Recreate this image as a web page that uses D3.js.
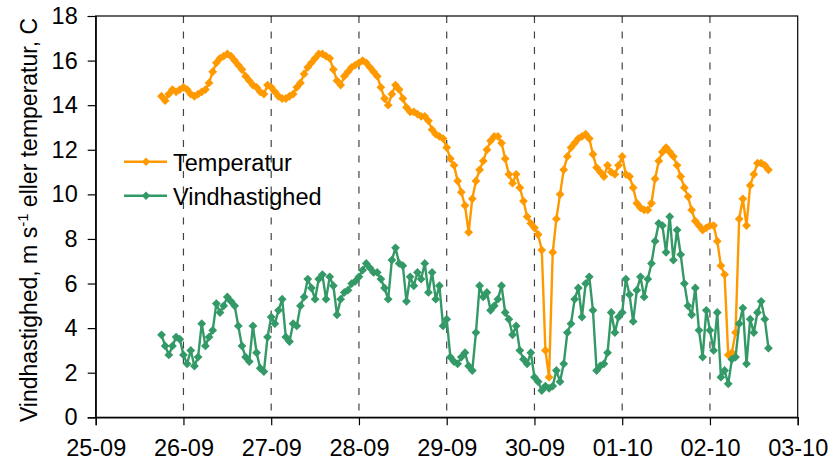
<!DOCTYPE html>
<html>
<head>
<meta charset="utf-8">
<script src="https://cdn.jsdelivr.net/npm/d3@7"></script>
<style>
  html, body { margin: 0; padding: 0; background: #fff; }
  svg { display: block; }
  text { font-family: "Liberation Sans", Arial, Helvetica, sans-serif; fill: #000; }
</style>
</head>
<body>
<svg id="chart" width="839" height="468"></svg>
<script>
// ---- data ----
const xTickLabels = ["25-09","26-09","27-09","28-09","29-09","30-09","01-10","02-10","03-10"];
const yTickValues = [0,2,4,6,8,10,12,14,16,18];
const firstHour = 18; // first observation: 25-09 18:00, hourly
const temperatur = [
 14.4,14.2,14.5,14.7,14.6,14.7,14.8,14.7,14.5,14.4,14.5,14.6,14.7,15.0,15.5,15.9,16.1,16.2,16.3,16.2,
 16.0,15.8,15.6,15.3,15.1,14.9,14.8,14.6,14.5,14.9,14.8,14.6,14.4,14.3,14.3,14.4,14.5,14.8,15.0,15.4,
 15.7,15.9,16.1,16.3,16.3,16.2,16.1,15.6,15.1,14.9,15.3,15.5,15.7,15.8,15.9,16.0,15.9,15.7,15.5,15.3,
 14.8,14.3,14.0,14.5,14.9,14.7,14.3,13.9,13.7,13.7,13.6,13.5,13.5,13.3,12.9,12.7,12.6,12.5,12.1,11.6,
 11.3,10.6,10.1,9.5,8.3,9.8,10.6,11.1,11.5,12.0,12.4,12.6,12.6,12.3,11.6,10.9,10.5,10.9,10.3,9.7,
 9.0,8.7,8.5,8.2,7.5,3.0,1.8,7.4,8.9,10.0,11.1,11.7,12.1,12.3,12.5,12.6,12.7,12.5,11.8,11.2,
 11.0,10.8,11.3,11.0,10.9,11.3,11.7,10.9,10.8,10.3,9.6,9.4,9.3,9.3,9.6,10.7,11.5,11.9,12.1,11.9,
 11.7,11.3,10.8,10.3,9.9,9.3,8.8,8.6,8.4,8.5,8.6,8.6,7.9,6.8,6.4,2.8,2.9,3.8,8.9,9.8,
 8.6,10.4,10.9,11.4,11.4,11.3,11.1
];
const vindhastighed = [
 3.7,3.2,2.8,3.2,3.6,3.5,2.8,2.4,3.0,2.3,2.7,4.2,3.2,3.6,3.9,5.1,4.7,5.0,5.4,5.2,
 5.0,4.1,3.2,2.7,2.5,4.1,2.9,2.2,2.05,3.6,4.5,4.2,4.8,5.3,3.6,3.4,4.2,4.1,5.0,5.4,
 6.2,5.8,5.3,6.2,6.4,5.3,6.3,5.9,4.6,5.3,5.6,5.7,6.0,6.1,6.3,6.6,6.9,6.7,6.5,6.5,
 6.2,5.8,5.3,7.05,7.6,6.9,6.8,5.2,6.3,5.9,6.5,6.2,6.9,5.6,6.5,5.3,5.9,4.1,4.4,2.7,
 2.5,2.4,2.7,2.9,2.3,2.1,3.8,5.9,5.4,5.6,4.8,5.0,5.3,5.9,4.7,4.4,3.7,4.1,3.0,2.6,
 2.4,2.9,1.8,1.6,1.2,1.4,1.3,1.4,2.1,1.6,2.4,3.8,4.2,5.3,5.8,4.5,6.0,6.3,4.8,2.1,
 2.3,2.4,2.9,4.7,3.8,4.5,4.7,6.2,5.5,4.3,5.7,6.3,5.4,6.2,6.9,7.9,8.7,8.6,7.4,9.0,
 7.05,8.4,7.3,6.0,5.0,4.6,5.8,3.9,2.7,4.8,3.9,3.0,4.7,1.8,2.1,1.5,2.6,2.7,4.2,4.9,
 2.4,4.4,3.8,4.7,5.2,4.4,3.1
];
const seriesNames = ["Temperatur", "Vindhastighed"];
const seriesColors = ["#FF9900", "#339966"];

// ---- layout ----
const svg = d3.select("#chart");
const plotL = 95.7, plotR = 797.7, plotT = 16, plotB = 417.3;
const t0 = Date.UTC(2009, 8, 25);
const HOUR = 3600 * 1000, DAY = 24 * HOUR;
const x = d3.scaleTime().domain([new Date(t0), new Date(t0 + 8 * DAY)]).range([plotL, plotR]);
const y = d3.scaleLinear().domain([0, 18]).range([plotB, plotT]);
const tickDates = xTickLabels.map((_, i) => new Date(t0 + i * DAY));
const toPoints = arr => arr.map((v, i) => ({ t: new Date(t0 + (firstHour + i) * HOUR), v }));
const FONT = 23.5;

// gridlines (dashed vertical, interior days)
svg.append("g").selectAll("line").data(tickDates.slice(1, -1)).join("line")
  .attr("x1", d => x(d)).attr("x2", d => x(d))
  .attr("y1", plotT).attr("y2", plotB)
  .attr("stroke", "#444").attr("stroke-width", 1.2).attr("stroke-dasharray", "7,8.5");

// frame
svg.append("rect").attr("x", plotL).attr("y", plotT).attr("width", plotR - plotL).attr("height", plotB - plotT)
  .attr("fill", "none").attr("stroke", "#000").attr("stroke-width", 1.2);

// axes
const xAxis = d3.axisBottom(x).tickValues(tickDates).tickFormat((d, i) => xTickLabels[i]).tickSize(8).tickPadding(14);
const gx = svg.append("g").attr("transform", `translate(0,${plotB})`).call(xAxis);
gx.select(".domain").attr("stroke-width", 1.2);
gx.selectAll(".tick line").attr("stroke-width", 1.2);
gx.selectAll("text").attr("font-size", FONT).attr("font-family", "Liberation Sans, Arial, sans-serif").attr("fill", "#000");

const yAxis = d3.axisLeft(y).tickValues(yTickValues).tickFormat(d3.format("d")).tickSize(8).tickPadding(10);
const gy = svg.append("g").attr("transform", `translate(${plotL},0)`).call(yAxis);
gy.select(".domain").attr("stroke-width", 1.2);
gy.selectAll(".tick line").attr("stroke-width", 1.2);
gy.selectAll("text").attr("font-size", FONT).attr("font-family", "Liberation Sans, Arial, sans-serif").attr("fill", "#000");

// y title
const yt = svg.append("text").attr("transform", "translate(37,220) rotate(-90)")
  .attr("text-anchor", "middle").attr("font-size", 23);
yt.append("tspan").text("Vindhastighed, m s");
yt.append("tspan").attr("font-size", 15).attr("dy", -9).text("-1");
yt.append("tspan").attr("dy", 9).text(" eller temperatur, C");

// series
const diamond = r => `M0,${-r}L${r},0L0,${r}L${-r},0Z`;
const line = d3.line().x(d => x(d.t)).y(d => y(d.v));
[temperatur, vindhastighed].forEach((arr, k) => {
  const pts = toPoints(arr);
  const g = svg.append("g");
  g.append("path").datum(pts).attr("d", line).attr("fill", "none")
    .attr("stroke", seriesColors[k]).attr("stroke-width", 2.4).attr("stroke-linejoin", "round");
  g.selectAll("path.m").data(pts).join("path").attr("class", "m")
    .attr("transform", d => `translate(${x(d.t)},${y(d.v)})`)
    .attr("d", diamond(4.4)).attr("fill", seriesColors[k]);
});

// legend
const lg = svg.append("g");
seriesNames.forEach((name, k) => {
  const ly = 161.7 + k * 34;
  lg.append("line").attr("x1", 124).attr("x2", 167).attr("y1", ly).attr("y2", ly)
    .attr("stroke", seriesColors[k]).attr("stroke-width", 2.4);
  lg.append("path").attr("transform", `translate(146,${ly})`).attr("d", diamond(4.2)).attr("fill", seriesColors[k]);
  lg.append("text").attr("x", 173).attr("y", ly + 9).attr("font-size", FONT).text(name);
});
</script>
</body>
</html>
